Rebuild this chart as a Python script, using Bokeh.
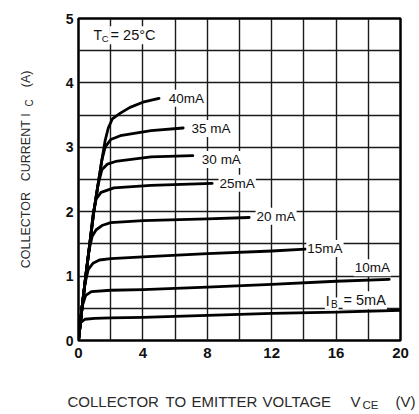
from bokeh.plotting import figure
from bokeh.models import Label, FixedTicker, Range1d
from bokeh.layouts import row, column
from bokeh.core.properties import value
from bokeh.embed import file_html
from bokeh.resources import INLINE
import math

# ---- axis ticks / grid ----
x_ticks = [0, 4, 8, 12, 16, 20]
y_ticks = [0, 1, 2, 3, 4, 5]
x_grid = [0, 2, 4, 6, 8, 10, 12, 14, 16, 18, 20]
y_grid = [0, 0.5, 1, 1.5, 2, 2.5, 3, 3.5, 4, 4.5, 5]

# ---- characteristic curves (VCE in V, IC in A) ----
vce_5 = [0, 0.05, 0.15, 0.4, 1, 2, 4, 8, 12, 16, 20]
ic_5 = [0, 0.18, 0.28, 0.33, 0.345, 0.35, 0.36, 0.39, 0.42, 0.44, 0.47]

vce_10 = [0, 0.1, 0.25, 0.45, 0.8, 2, 4, 8, 12, 16, 19.3]
ic_10 = [0, 0.25, 0.55, 0.7, 0.76, 0.78, 0.79, 0.83, 0.87, 0.92, 0.95]

vce_15 = [0, 0.2, 0.4, 0.6, 0.9, 1.3, 2, 4, 8, 12, 14.1]
ic_15 = [0, 0.47, 0.88, 1.1, 1.2, 1.25, 1.27, 1.30, 1.35, 1.39, 1.42]

vce_20 = [0, 0.2, 0.45, 0.65, 0.85, 1.1, 1.5, 2, 4, 8, 10.6]
ic_20 = [0, 0.47, 1.0, 1.4, 1.62, 1.72, 1.79, 1.83, 1.86, 1.89, 1.91]

vce_25 = [0, 0.2, 0.45, 0.7, 0.9, 1.1, 1.4, 2.2, 4.5, 8.3]
ic_25 = [0, 0.47, 1.0, 1.5, 1.95, 2.2, 2.3, 2.37, 2.41, 2.44]

vce_30 = [0, 0.2, 0.45, 0.7, 0.95, 1.2, 1.45, 1.8, 2.3, 4.5, 7.1]
ic_30 = [0, 0.47, 1.0, 1.5, 2.0, 2.4, 2.65, 2.74, 2.78, 2.85, 2.87]

vce_35 = [0, 0.2, 0.45, 0.7, 0.95, 1.2, 1.45, 1.65, 2.0, 2.6, 4.5, 6.5]
ic_35 = [0, 0.47, 1.0, 1.5, 2.0, 2.4, 2.8, 3.0, 3.12, 3.18, 3.26, 3.3]

vce_40 = [0, 0.2, 0.45, 0.7, 0.95, 1.2, 1.45, 1.65, 1.85, 2.1, 2.6, 3.2, 4.0, 5.0]
ic_40 = [0, 0.47, 1.0, 1.5, 2.0, 2.4, 2.8, 3.1, 3.3, 3.44, 3.53, 3.62, 3.7, 3.76]

curves = [(vce_5, ic_5), (vce_10, ic_10), (vce_15, ic_15), (vce_20, ic_20),
          (vce_25, ic_25), (vce_30, ic_30), (vce_35, ic_35), (vce_40, ic_40)]

# curve labels: text, left x, y
curve_label_text = ["40mA", "35 mA", "30 mA", "25mA", "20 mA", "15mA", "10mA"]
curve_label_x = [5.55, 6.95, 7.6, 8.7, 11.0, 14.15, 17.1]
curve_label_y = [3.76, 3.29, 2.81, 2.44, 1.93, 1.43, 1.13]

# axis title pieces (text, position along the title, is_subscript)
x_title_parts = [("COLLECTOR", 67, False), ("TO", 165, False), ("EMITTER", 191, False),
                 ("VOLTAGE", 262, False), ("V", 350, False), ("CE", 362, True), ("(V)", 395, False)]
y_title_parts = [("COLLECTOR", 287, False), ("CURRENT", 187, False), ("I", 113, False),
                 ("C", 101, True), ("(A)", 79, False)]

FONT = "Liberation Sans"
INK = "#111111"
TITLE_INK = "#2a2a2a"

W_Y, H_TOP = 40, 370
W_MAIN = 379
W_ALL, H_X = 419, 44

# ---------------- main chart ----------------
p = figure(width=W_MAIN, height=H_TOP, x_range=Range1d(0, 20), y_range=Range1d(0, 5),
           output_backend="svg", toolbar_location=None,
           min_border_left=38, min_border_right=19, min_border_top=18, min_border_bottom=30)

p.background_fill_color = "white"
p.border_fill_color = "white"
p.outline_line_color = "black"
p.outline_line_width = 2.5

p.xaxis.ticker = FixedTicker(ticks=x_ticks)
p.yaxis.ticker = FixedTicker(ticks=y_ticks)
p.xgrid.ticker = FixedTicker(ticks=x_grid)
p.ygrid.ticker = FixedTicker(ticks=y_grid)
for g in (p.xgrid, p.ygrid):
    g.grid_line_color = "#1a1a1a"
    g.grid_line_width = 1.4
    g.grid_line_alpha = 1.0

for ax in (p.xaxis, p.yaxis):
    ax.axis_line_color = None
    ax.major_tick_line_color = None
    ax.minor_tick_line_color = None
    ax.major_tick_out = 0
    ax.major_tick_in = 0
    ax.minor_tick_out = 0
    ax.minor_tick_in = 0
    ax.major_label_text_font = FONT
    ax.major_label_text_font_style = "bold"
    ax.major_label_text_color = INK
p.xaxis.major_label_text_font_size = "15px"
p.yaxis.major_label_text_font_size = "14px"
p.xaxis.major_label_standoff = 7
p.yaxis.major_label_standoff = 5

for vx, iy in curves:
    p.line(vx, iy, line_color="black", line_width=2.8, line_join="round", line_cap="round")


def lab(x, y, text, size="13.5px"):
    l = Label(x=x, y=y, text=text, text_font=FONT, text_font_size=size,
              text_color=INK, text_align="left", text_baseline="middle",
              background_fill_color="white", background_fill_alpha=1.0, padding=1)
    p.add_layout(l)


for t, x, y in zip(curve_label_text, curve_label_x, curve_label_y):
    lab(x, y, t)

# I_B = 5mA
lab(15.3, 0.62, "I", size="14px")
lab(15.62, 0.565, "B", size="10px")
lab(16.4, 0.625, "= 5mA", size="14.5px")

# T_C = 25°C
lab(0.87, 4.74, "T", size="14px")
lab(1.38, 4.69, "C", size="9.5px")
lab(1.93, 4.74, "= 25°C", size="14.5px")

# ---------------- y-axis title (separate strip on the left) ----------------
yt = figure(width=W_Y, height=H_TOP, x_range=Range1d(0, W_Y), y_range=Range1d(0, H_TOP),
            output_backend="svg", toolbar_location=None, min_border=0,
            x_axis_location=None, y_axis_location=None)
yt.outline_line_color = None
for g in yt.grid:
    g.visible = False
for t, pos, sub in y_title_parts:
    yt.text(x=[28.5 if sub else 25.7], y=[H_TOP - pos], text=[t],
            angle=math.pi / 2, text_align="left", text_baseline="alphabetic",
            text_font=value(FONT), text_font_size=value("10px" if sub else "12.5px"),
            text_color=TITLE_INK)

# ---------------- x-axis title (separate strip at the bottom) ----------------
xt = figure(width=W_ALL, height=H_X, x_range=Range1d(0, W_ALL), y_range=Range1d(0, H_X),
            output_backend="svg", toolbar_location=None, min_border=0,
            x_axis_location=None, y_axis_location=None)
xt.outline_line_color = None
for g in xt.grid:
    g.visible = False
for t, pos, sub in x_title_parts:
    xt.text(x=[pos], y=[10 if sub else 13], text=[t],
            text_align="left", text_baseline="alphabetic",
            text_font=value(FONT), text_font_size=value("11.5px" if sub else "15px"),
            text_color=TITLE_INK)

layout = column(row(yt, p, spacing=0), xt, spacing=0)

open("out.html", "w").write(file_html(layout, INLINE))
